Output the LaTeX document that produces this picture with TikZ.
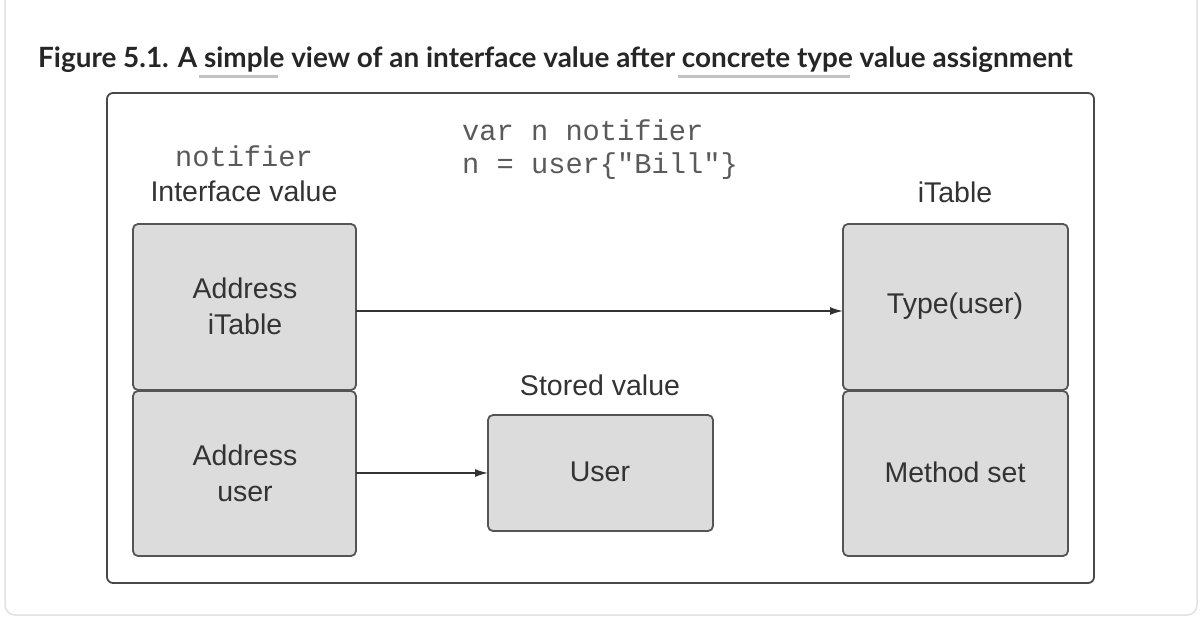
\documentclass[tikz,border=0pt]{standalone}
\usepackage{fontspec}
\setmainfont{Liberation Sans}
\newfontfamily\titlefont{Lato}
\newfontfamily\monofont{Liberation Mono}
\usetikzlibrary{arrows.meta}
\definecolor{boxfill}{HTML}{DCDCDD}
\definecolor{boxline}{HTML}{555555}
\definecolor{txt}{HTML}{333333}
\definecolor{mono}{HTML}{5A5A5A}
\definecolor{card}{HTML}{E2E2E2}
\definecolor{ul}{HTML}{C2C2C2}
\begin{document}
\begin{tikzpicture}[x=1pt,y=-1pt,
  cell/.style={draw=boxline,line width=1.8pt,fill=boxfill,rounded corners=5pt},
  lbl/.style={font=\fontsize{28.5}{33}\selectfont,text=txt,align=center,inner sep=0pt},
  code/.style={font=\monofont\fontsize{28.7}{34}\selectfont,text=mono,inner sep=0pt},
  arr/.style={draw=txt,line width=1.6pt,-{Latex[length=13pt,width=8pt]}}]
\useasboundingbox (0,0) rectangle (1202,618);
\fill[white] (0,0) rectangle (1202,618);
\draw[card,line width=1.5pt,rounded corners=10pt] (5,-10) -- (5,615) -- (1197,615) -- (1197,-10);
% title
\node[anchor=base west,inner sep=0pt,font=\titlefont\bfseries\fontsize{27.9}{32}\selectfont,text=black!85] (title) at (38,67) {Figure 5.1. A simple view of an interface value after concrete type value assignment};
\draw[ul,line width=3pt] (199,77) -- (278,77);
\draw[ul,line width=3pt] (678,77) -- (850,77);
% frame
\draw[draw=boxline!85!black,line width=1.8pt,rounded corners=6pt] (107,93) rectangle (1094,583);
% boxes
\draw[cell] (133,224) rectangle (356,390);
\draw[cell] (133,391) rectangle (356,556);
\draw[cell] (843,224) rectangle (1068,390);
\draw[cell] (843,391) rectangle (1068,556);
\draw[cell] (488,415) rectangle (713,531);
\coordinate (a1) at (356,311);
\coordinate (b1) at (843,311);
\coordinate (a2) at (356,473);
\coordinate (b2) at (488,473);
% labels
\node[code] (nt) at (244,156) {notifier};
\node[lbl] (iv) at (244,191) {Interface value};
\node[code,anchor=west] (c1) at (462,130) {var n notifier};
\node[code,anchor=west] (c2) at (462,166) {n = user\{"Bill"\}};
\node[lbl] (it) at (955,192) {iTable};
\node[lbl,align=center] (ai) at (245,306) {Address\\[3pt]iTable};
\node[lbl,align=center] (au) at (245,473) {Address\\[3pt]user};
\node[lbl] (tu) at (955,306) {Type(user)};
\node[lbl] (ms) at (955,472) {Method set};
\node[lbl] (sv) at (600,385) {Stored value};
\node[lbl] (us) at (600,472) {User};
\draw[arr] (a1) -- (b1);
\draw[arr] (a2) -- (b2);
\end{tikzpicture}
\end{document}
